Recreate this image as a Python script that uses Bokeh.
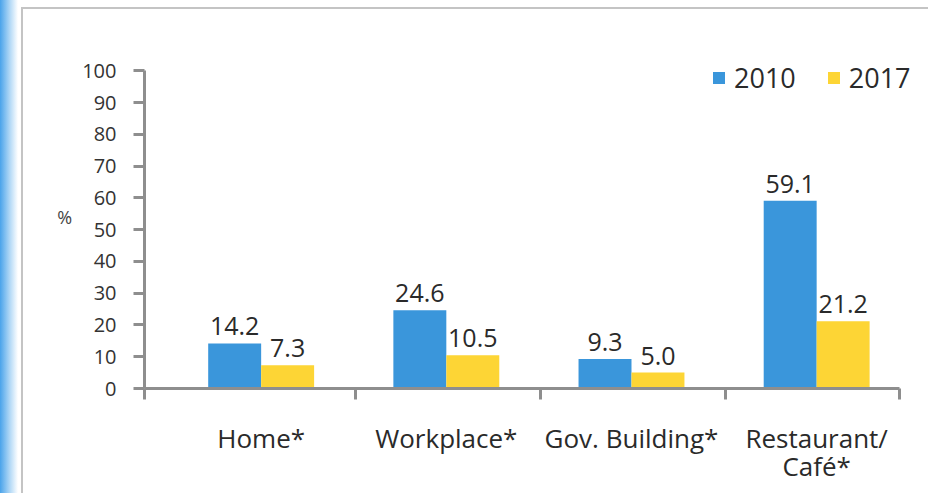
from bokeh.plotting import figure
from bokeh.models import (Range1d, FixedTicker, Legend, LegendItem, LinearAxis,
                          ColumnDataSource)
from bokeh.core.properties import value
from bokeh.embed import file_html
from bokeh.resources import INLINE

categories = ["Home*", "Workplace*", "Gov. Building*", "Restaurant/\nCafé*"]
years = ["2010", "2017"]
values_2010 = [14.2, 24.6, 9.3, 59.1]
values_2017 = [7.3, 10.5, 5.0, 21.2]
y_ticks = [0, 10, 20, 30, 40, 50, 60, 70, 80, 90, 100]

BLUE = "#3A96DB"
YELLOW = "#FDD535"
AXIS = "#8E8E8E"
TEXT = "#2A2A2A"
FONT = "Open Sans"

n = len(categories)
bar_w = 0.286
idx = list(range(n))
x_2010 = [i - bar_w / 2 for i in idx]
x_2017 = [i + bar_w / 2 for i in idx]

x_start, x_end, x_view_end = -0.63, 3.45, 3.55
y_max, y_top = 100, 108

p = figure(output_backend="svg", toolbar_location=None,
           frame_width=774, frame_height=343,
           min_border_left=144, min_border_top=45, min_border_right=10,
           min_border_bottom=105,
           x_range=Range1d(x_start, x_view_end), y_range=Range1d(0, y_top),
           x_axis_location=None, y_axis_location=None)
p.outline_line_color = None
p.grid.visible = False
p.background_fill_color = "white"
p.border_fill_alpha = 0
p.styles = {
    "background": ("linear-gradient(#c4c4c4,#c4c4c4) 21px 7px / 100% 2px no-repeat, "
                   "linear-gradient(#c4c4c4,#c4c4c4) 21px 7px / 2px 100% no-repeat, "
                   "linear-gradient(to right, #4aa3ea, #a9d4f5 9px, #ffffff 18px) 0 0 / 18px 100% no-repeat, "
                   "#ffffff")
}

src1 = ColumnDataSource(dict(x=x_2010, top=values_2010,
                             lbl=[f"{v:.1f}" for v in values_2010]))
src2 = ColumnDataSource(dict(x=x_2017, top=values_2017,
                             lbl=[f"{v:.1f}" for v in values_2017]))
r1 = p.vbar(x="x", top="top", bottom=0, width=bar_w, source=src1,
            fill_color=BLUE, line_color=None)
r2 = p.vbar(x="x", top="top", bottom=0, width=bar_w, source=src2,
            fill_color=YELLOW, line_color=None)

for src in (src1, src2):
    p.text(x="x", y="top", text="lbl", source=src, y_offset=-17,
           text_align="center", text_baseline="alphabetic",
           text_font=value(FONT), text_font_size="25px", text_color=TEXT)

# y axis
yaxis = LinearAxis(ticker=FixedTicker(ticks=y_ticks, minor_ticks=[]),
                   bounds=(0, y_max))
yaxis.axis_line_color = AXIS
yaxis.axis_line_width = 3
yaxis.major_tick_line_color = AXIS
yaxis.major_tick_line_width = 3
yaxis.major_tick_out = 11
yaxis.major_tick_in = 0
yaxis.minor_tick_line_color = None
yaxis.major_label_text_font = FONT
yaxis.major_label_text_font_size = "20px"
yaxis.major_label_text_color = "#333333"
yaxis.major_label_standoff = 17
yaxis.axis_label = "%"
yaxis.axis_label_orientation = "horizontal"
yaxis.axis_label_text_font = FONT
yaxis.axis_label_text_font_style = "normal"
yaxis.axis_label_text_font_size = "18px"
yaxis.axis_label_text_color = "#444444"
yaxis.axis_label_standoff = 7
p.add_layout(yaxis, "left")

# x axis: labels at group centres, separator ticks as minor ticks
seps = [x_start] + [i + 0.51 for i in idx[:-1]] + [x_end]
xaxis = LinearAxis(ticker=FixedTicker(ticks=idx, minor_ticks=seps),
                   bounds=(x_start, x_end))
xaxis.major_label_overrides = {i: c for i, c in enumerate(categories)}
xaxis.axis_line_color = AXIS
xaxis.axis_line_width = 3
xaxis.major_tick_line_color = None
xaxis.major_tick_out = 11
xaxis.major_tick_in = 0
xaxis.minor_tick_line_color = AXIS
xaxis.minor_tick_line_width = 3
xaxis.minor_tick_out = 11
xaxis.minor_tick_in = 0
xaxis.major_label_text_font = FONT
xaxis.major_label_text_font_size = "26px"
xaxis.major_label_text_color = TEXT
xaxis.major_label_text_line_height = 0.8
xaxis.major_label_standoff = 20
p.add_layout(xaxis, "below")

legend = Legend(items=[LegendItem(label=years[0], renderers=[r1]),
                       LegendItem(label=years[1], renderers=[r2])],
                orientation="horizontal", location=(567, 292),
                padding=0, margin=0, spacing=30, label_standoff=8,
                glyph_width=15, glyph_height=15, label_height=36,
                label_text_font=FONT, label_text_font_size="27px",
                label_text_color=TEXT, background_fill_alpha=0,
                border_line_color=None)
p.add_layout(legend, "center")

open("out.html", "w").write(file_html(p, INLINE))
